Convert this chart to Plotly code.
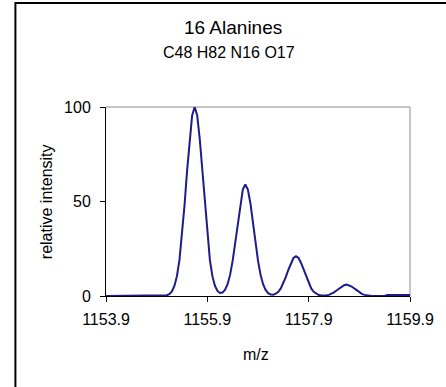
import plotly.graph_objects as go

# m/z values and relative intensities
mz = [1153.9, 1155.0, 1155.05, 1155.1, 1155.15, 1155.2, 1155.25, 1155.3, 1155.35, 1155.4,
      1155.45, 1155.5, 1155.55, 1155.6, 1155.65, 1155.7, 1155.75, 1155.8, 1155.85, 1155.9,
      1155.95, 1156.0, 1156.05, 1156.1, 1156.15, 1156.2, 1156.25, 1156.3, 1156.35, 1156.4,
      1156.45, 1156.5, 1156.55, 1156.6, 1156.65, 1156.7, 1156.75, 1156.8, 1156.85, 1156.9,
      1156.95, 1157.0, 1157.05, 1157.1, 1157.15, 1157.2, 1157.25, 1157.3, 1157.35, 1157.4,
      1157.45, 1157.5, 1157.55, 1157.6, 1157.65, 1157.7, 1157.75, 1157.8, 1157.85, 1157.9,
      1157.95, 1158.0, 1158.05, 1158.1, 1158.15, 1158.2, 1158.25, 1158.3, 1158.35, 1158.4,
      1158.45, 1158.5, 1158.55, 1158.6, 1158.65, 1158.7, 1158.75, 1158.8, 1158.85, 1158.9,
      1158.95, 1159.0, 1159.05, 1159.1, 1159.15, 1159.2, 1159.4, 1159.45, 1159.5, 1159.65,
      1159.8, 1159.9]
intensity = [0.0, 0.0, 0.13, 0.39, 1.0, 2.4, 5.3, 10.5, 19.1, 31.7,
             48.0, 66.2, 83.2, 95.5, 100.0, 95.5, 83.2, 66.2, 48.0, 31.7,
             19.1, 10.5, 5.4, 2.7, 1.6, 1.8, 3.3, 6.2, 11.3, 18.7,
             28.3, 39.1, 49.1, 56.3, 59.0, 56.3, 49.1, 39.1, 28.3, 18.7,
             11.3, 6.2, 3.2, 1.5, 0.8, 0.7, 1.2, 2.2, 4.0, 6.7,
             10.1, 13.9, 17.5, 20.1, 21.0, 20.1, 17.5, 13.9, 10.1, 6.7,
             4.0, 2.2, 1.1, 0.5, 0.3, 0.2, 0.35, 0.6, 1.15, 1.9,
             2.9, 4.0, 5.0, 5.7, 6.0, 5.7, 5.0, 4.0, 2.9, 1.9,
             1.15, 0.6, 0.3, 0.15, 0.06, 0.0, 0.0, 0.5, 0.5, 0.5,
             0.5, 0.5]

x_ticks = [1153.9, 1155.9, 1157.9, 1159.9]
x_tick_labels = ["1153.9", "1155.9", "1157.9", "1159.9"]
y_ticks = [0, 50, 100]

title = "16 Alanines"
subtitle = "C48 H82 N16 O17"

FONT = "Arial, Liberation Sans, sans-serif"

fig = go.Figure()
fig.add_trace(go.Scatter(x=mz, y=intensity, mode="lines",
                         line=dict(color="#1c1c8a", width=2), showlegend=False,
                         cliponaxis=False))

fig.update_layout(
    width=446, height=387,
    margin=dict(l=106, r=31, t=107, b=91),
    paper_bgcolor="white", plot_bgcolor="white",
    font=dict(family=FONT, size=16, color="black"),
    xaxis=dict(range=[1153.9, 1159.9], tickvals=x_ticks, ticktext=x_tick_labels,
               showgrid=False, zeroline=False, showline=True, linecolor="black",
               linewidth=1, ticks="outside", ticklen=5, tickcolor="black",
               tickfont=dict(size=16), ticklabelstandoff=4),
    yaxis=dict(range=[0, 100], tickvals=y_ticks, showgrid=False, zeroline=False,
               showline=True, linecolor="black", linewidth=1, ticks="outside",
               ticklen=5, tickcolor="black", tickfont=dict(size=16),
               ticklabelstandoff=6),
    shapes=[
        dict(type="line", xref="paper", yref="paper", x0=0, x1=1, y0=1, y1=1,
             line=dict(color="#8c8c8c", width=1), layer="below"),
        dict(type="line", xref="paper", yref="paper", x0=1, x1=1, y0=0, y1=1,
             line=dict(color="#8c8c8c", width=1), layer="below"),
        dict(type="rect", xref="paper", yref="paper", x0=-0.298, x1=1.2,
             y0=-0.6, y1=1.55, line=dict(color="black", width=2)),
    ],
    annotations=[
        dict(text=title, xref="paper", yref="paper", x=0.418, y=1.418,
             showarrow=False, font=dict(size=19), xanchor="center", yanchor="middle"),
        dict(text=subtitle, xref="paper", yref="paper", x=0.405, y=1.286,
             showarrow=False, font=dict(size=16), xanchor="center", yanchor="middle"),
        dict(text="relative intensity", xref="paper", yref="paper", x=-0.197, y=0.497,
             showarrow=False, textangle=-90, font=dict(size=16),
             xanchor="center", yanchor="middle"),
        dict(text="m/z", xref="paper", yref="paper", x=0.495, y=-0.312,
             showarrow=False, font=dict(size=16), xanchor="center", yanchor="middle"),
    ],
)

fig.write_html("out.html")
